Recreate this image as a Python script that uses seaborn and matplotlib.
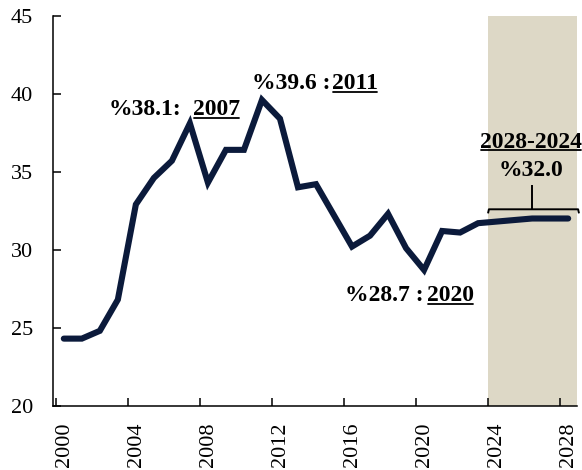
import matplotlib
matplotlib.use("Agg")
import matplotlib.pyplot as plt
import seaborn as sns
import pandas as pd
from matplotlib.transforms import ScaledTranslation
from matplotlib.lines import Line2D

# ---- data ----
years = list(range(2000, 2029))
values = [24.3, 24.3, 24.8, 26.8, 32.9, 34.6, 35.7, 38.1, 34.3, 36.4,
          36.4, 39.6, 38.4, 34.0, 34.2, 32.2, 30.2, 30.9, 32.3, 30.1,
          28.7, 31.2, 31.1, 31.7, 31.8, 31.9, 32.0, 32.0, 32.0]
xtick_years = [2000, 2004, 2008, 2012, 2016, 2020, 2024, 2028]
xtick_labels = [str(y) for y in xtick_years]
ytick_values = [20, 25, 30, 35, 40, 45]
forecast_start = 2024
forecast_end = 2028
forecast_avg = 32.0
annotations = [  # (value text, year text)
    ("%38.1:", "2007"),
    ("%39.6 :", "2011"),
    ("%28.7 :", "2020"),
]
forecast_label = "2028-2024"
forecast_value_label = "%32.0"

# ---- style ----
sns.set_style("ticks")
plt.rcParams["font.family"] = ["Liberation Serif", "DejaVu Serif"]
LINE_COLOR = "#0b1a3b"
SHADE_COLOR = "#ddd8c6"
FONT = ["Liberation Serif", "DejaVu Serif"]

fig = plt.figure(figsize=(5.82, 4.70), dpi=100)
ax = fig.add_axes([53 / 582, 1 - 405.7 / 470, (577 - 53) / 582, (405.7 - 15.7) / 470])

xmin, xmax = 1999.85, 2028.94
ax.set_xlim(xmin, xmax)
ax.set_ylim(20, 45)

ax.axvspan(forecast_start, xmax, color=SHADE_COLOR, zorder=0, lw=0)

df = pd.DataFrame({"x": [y + 0.45 for y in years], "value": values})
sns.lineplot(data=df, x="x", y="value", ax=ax, color=LINE_COLOR, linewidth=4.4,
             solid_capstyle="round", solid_joinstyle="miter", zorder=3)

ax.set_xlabel("")
ax.set_ylabel("")
for s in ["top", "right"]:
    ax.spines[s].set_visible(False)
for s in ["left", "bottom"]:
    ax.spines[s].set_linewidth(1.1)
    ax.spines[s].set_color("black")

ax.set_yticks(ytick_values)
ax.set_yticklabels([str(v) for v in ytick_values])
ax.set_xticks(xtick_years)
ax.set_xticklabels(xtick_labels, rotation=90)
ax.tick_params(axis="y", direction="in", length=6, width=1.1, pad=14.4,
               labelsize=16, colors="black")
ax.tick_params(axis="x", direction="in", length=5.5, width=1.1, pad=12,
               labelsize=16, colors="black")
for lbl in ax.get_xticklabels():
    lbl.set_fontfamily(FONT)
    lbl.set_transform(lbl.get_transform() + ScaledTranslation(6 / 72, 0, fig.dpi_scale_trans))
for lbl in ax.get_yticklabels():
    lbl.set_fontfamily(FONT)

# ---- annotations ----
tkw = dict(fontsize=17, fontweight="bold", family=FONT, color="black",
           va="baseline", zorder=5)
underlined = []
# (value-text right x, year-text left x, baseline y)
ann_pos = [(2006.96, 2007.62, 38.63), (2015.25, 2015.35, 40.30), (2020.45, 2020.6, 26.71)]
for (vt, yt), (xr, xl, yb) in zip(annotations, ann_pos):
    ax.text(xr, yb, vt, ha="right", **tkw)
    t = ax.text(xl, yb, yt, ha="left", **tkw)
    underlined.append((t, yb))

xc = 2026.4
t = ax.text(xc, 36.54, forecast_label, ha="center", clip_on=False, **tkw)
underlined.append((t, 36.54))
ax.text(xc, 34.74, forecast_value_label, ha="center", **tkw)

# bracket over forecast period
y_bar, y_end, y_stem = 32.59, 32.33, 34.15
bx0, bx1 = forecast_start, 2029.05
bkw = dict(color="black", lw=1.4, clip_on=False, zorder=4, solid_capstyle="butt")
ax.plot([bx0, bx0 + 0.05, bx1 - 0.05, bx1], [y_end, y_bar, y_bar, y_end], **bkw)
ax.plot([2026.45, 2026.45], [y_bar, y_stem], **bkw)

# underlines
fig.canvas.draw()
renderer = fig.canvas.get_renderer()
inv = fig.transFigure.inverted()
for t, yb in underlined:
    bb = t.get_window_extent(renderer)
    ypx = ax.transData.transform((0, yb))[1] - 2.6
    p0 = inv.transform((bb.x0 + 1, ypx))
    p1 = inv.transform((bb.x1 - 1, ypx))
    fig.add_artist(Line2D([p0[0], p1[0]], [p0[1], p1[1]], color="black", lw=1.3,
                          transform=fig.transFigure))

fig.savefig("out.png", dpi=100)
